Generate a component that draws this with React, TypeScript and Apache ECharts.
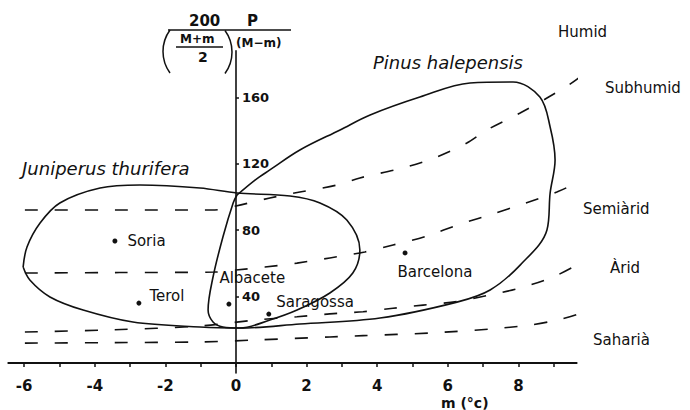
import React, { useEffect, useRef } from "react";
import * as echarts from "echarts";

// Climate-zone boundaries (m in °C, Q = pluviothermic quotient)
const humidSubhumid: [number, number][] = [
  [-5.98, 92.2], [-3.3, 92.2], [-0.6, 92.2], [0, 94.6], [0.96, 99.4], [1.81, 103.0],
  [2.86, 107.2], [3.51, 111.5], [4.73, 117.5], [5.69, 124.1], [6.54, 132.5],
  [7.11, 140.4], [8.05, 150.6], [8.81, 159.6], [9.75, 172.3], [10.51, 188.6],
];
const subhumidSemiarid: [number, number][] = [
  [-5.98, 54.2], [-3.3, 54.5], [-0.6, 54.8], [0, 56.0], [0.82, 57.8], [1.73, 60.2],
  [2.66, 63.3], [3.65, 66.9], [4.45, 71.1], [5.41, 76.5], [6.35, 83.7],
  [7.28, 89.8], [8.13, 95.8], [9.09, 103.0], [9.66, 109.0], [10.4, 121.1],
];
const semiaridArid: [number, number][] = [
  [-5.98, 18.7], [-3.5, 20.0], [-1.02, 22.3], [0.59, 26.0], [1.73, 27.9], [2.66, 29.6],
  [3.6, 30.9], [4.45, 33.0], [5.3, 34.9], [6.26, 37.0], [7.11, 40.6],
  [8.05, 45.2], [8.98, 51.8], [9.75, 60.2], [10.68, 72.9],
];
const aridSaharan: [number, number][] = [
  [-5.98, 12.0], [-3.5, 12.3], [-1.02, 12.7], [0.59, 13.9], [2.66, 15.7], [3.6, 16.5],
  [5.5, 18.1], [7.2, 20.5], [8.33, 22.9], [9.09, 25.9], [9.75, 30.1], [10.68, 42.2],
];

// Species ranges
const juniperusThurifera: [number, number][] = [
  [-6.03, 57.8], [-5.92, 69.9], [-5.55, 84.3], [-4.99, 96.4], [-3.85, 105.4],
  [-2.72, 107.2], [-1.02, 105.4], [0.03, 102.4], [1.53, 100.6], [2.38, 96.4],
  [3.14, 86.1], [3.51, 68.1], [3.31, 54.2], [2.66, 42.2], [1.73, 31.9],
  [0.96, 25.9], [0.11, 21.1], [-1.02, 21.7], [-2.92, 24.7], [-4.33, 31.9],
  [-5.27, 39.8], [-5.84, 50.0], [-6.03, 57.8],
];
const pinusHalepensis: [number, number][] = [
  [0.03, 101.2], [0.54, 110.2], [0.96, 116.3], [1.81, 128.3], [2.95, 140.4],
  [3.8, 149.4], [5.21, 160.2], [6.63, 168.7], [7.85, 169.3], [8.61, 160.2],
  [8.9, 142.2], [9.04, 122.3], [8.9, 102.4], [8.81, 80.1], [8.05, 59.0],
  [7.2, 44.0], [6.26, 36.7], [4.08, 27.1], [1.81, 23.5], [0.11, 21.1],
  [-0.37, 21.7], [-0.65, 24.7], [-0.79, 31.9], [-0.65, 51.8], [-0.37, 75.9],
  [-0.08, 96.4], [0.03, 101.2],
];

// Stations
const stationNames = ["Soria", "Terol", "Albacete", "Saragossa", "Barcelona"];
const stationM = [-3.43, -2.75, -0.2, 0.93, 4.79];
const stationQ = [73.5, 36.1, 35.5, 29.5, 66.3];

// Axis ticks
const xTickValues = [-6, -5, -4, -3, -2, -1, 0, 1, 2, 3, 4, 5, 6, 7, 8, 9];
const xLabelValues = [-6, -4, -2, 0, 2, 4, 6, 8];
const yTickValues = [40, 80, 120, 160];

const FONT = "DejaVu Sans";
const INK = "#111";

const X_MIN = -6.45;
const X_MAX = 9.65;
const GRID_LEFT = 8.3;
const GRID_RIGHT = 113.4;

export default function App() {
  const ref = useRef<HTMLDivElement>(null);

  useEffect(() => {
    if (!ref.current) return;
    const chart = echarts.init(ref.current, null, { renderer: "svg" });

    const plotWidth = 690 - GRID_LEFT - GRID_RIGHT;
    const zeroOffset = (-X_MIN / (X_MAX - X_MIN)) * plotWidth;

    const dashed = (data: [number, number][]) => ({
      type: "line",
      data,
      smooth: 0.3,
      showSymbol: false,
      clip: false,
      silent: true,
      lineStyle: { color: INK, width: 1.6, type: [13, 17] },
    });
    const solid = (data: [number, number][]) => ({
      type: "line",
      data,
      smooth: 0.35,
      showSymbol: false,
      clip: false,
      silent: true,
      lineStyle: { color: INK, width: 1.6 },
    });

    const labelOffsets: Record<string, number[]> = {
      Soria: [5, 0],
      Terol: [3, -7],
      Albacete: [-17, -26],
      Saragossa: [0, -12],
      Barcelona: [-15, 19],
    };

    const txt = (text: string, x: number, y: number, extra: any = {}) => ({
      type: "text",
      x,
      y,
      style: {
        text,
        fill: INK,
        fontFamily: FONT,
        fontSize: 15,
        verticalAlign: "middle",
        align: "left",
        ...extra,
      },
    });

    chart.setOption({
      animation: false,
      grid: { left: GRID_LEFT, right: GRID_RIGHT, top: 50.9, bottom: 37 },
      xAxis: {
        type: "value",
        min: X_MIN,
        max: X_MAX,
        axisLine: { onZero: true, lineStyle: { color: INK, width: 2 } },
        axisTick: {
          customValues: xTickValues,
          length: 4,
          lineStyle: { color: INK, width: 1.5 },
        },
        axisLabel: {
          customValues: xLabelValues,
          color: INK,
          fontFamily: FONT,
          fontSize: 15,
          fontWeight: "bold",
          margin: 5,
        },
        splitLine: { show: false },
      },
      yAxis: {
        type: "value",
        min: -6,
        max: 188,
        offset: -zeroOffset,
        axisLine: { onZero: false, lineStyle: { color: INK, width: 1.6 } },
        axisTick: {
          customValues: yTickValues,
          inside: true,
          length: 3,
          lineStyle: { color: INK, width: 1.5 },
        },
        axisLabel: {
          customValues: yTickValues,
          inside: true,
          margin: 6,
          color: INK,
          fontFamily: FONT,
          fontSize: 13,
          fontWeight: "bold",
        },
        splitLine: { show: false },
      },
      series: [
        dashed(humidSubhumid),
        dashed(subhumidSemiarid),
        dashed(semiaridArid),
        dashed(aridSaharan),
        solid(juniperusThurifera),
        solid(pinusHalepensis),
        {
          type: "scatter",
          symbolSize: 5,
          itemStyle: { color: INK, opacity: 1 },
          data: stationNames.map((n, i) => ({
            name: n,
            value: [stationM[i], stationQ[i]],
            label: {
              show: true,
              formatter: n,
              position: "right",
              distance: 5,
              offset: labelOffsets[n],
              color: INK,
              fontFamily: FONT,
              fontSize: 15,
            },
          })),
        },
      ],
      graphic: [
        txt("Humid", 558, 32),
        txt("Subhumid", 605, 88),
        txt("Semiàrid", 583, 209),
        txt("Àrid", 610, 268),
        txt("Saharià", 593, 340),
        txt("Juniperus thurifera", 22, 168, { fontSize: 18, fontStyle: "italic" }),
        txt("Pinus halepensis", 373, 62, { fontSize: 18, fontStyle: "italic" }),
        txt("m (°c)", 441, 403, { fontSize: 14, fontWeight: "bold" }),
        // y-axis title: 200 P / ((M+m)/2)(M-m)
        txt("200", 189, 21, { fontSize: 15, fontWeight: "bold" }),
        txt("P", 247, 21, { fontSize: 15, fontWeight: "bold" }),
        {
          type: "line",
          shape: { x1: 168, y1: 30, x2: 291, y2: 30 },
          style: { stroke: INK, lineWidth: 1.5 },
        },
        {
          type: "arc",
          shape: { cx: 199.5, cy: 51.5, r: 36.5, startAngle: Math.PI - 0.63, endAngle: Math.PI + 0.63, clockwise: true },
          style: { stroke: INK, fill: "none", lineWidth: 1.5 },
        },
        {
          type: "arc",
          shape: { cx: 195.5, cy: 52, r: 36.5, startAngle: -0.63, endAngle: 0.63, clockwise: true },
          style: { stroke: INK, fill: "none", lineWidth: 1.5 },
        },
        txt("M+m", 180, 39, { fontSize: 12, fontWeight: "bold" }),
        {
          type: "line",
          shape: { x1: 176, y1: 47, x2: 223, y2: 47 },
          style: { stroke: INK, lineWidth: 1.3 },
        },
        txt("2", 198, 57, { fontSize: 14, fontWeight: "bold" }),
        txt("(M−m)", 236, 43, { fontSize: 12, fontWeight: "bold" }),
      ],
    });

    return () => chart.dispose();
  }, []);

  return (
    <div
      ref={ref}
      style={{ position: "fixed", left: 0, top: 0, width: 690, height: 410, background: "#fff" }}
    />
  );
}
